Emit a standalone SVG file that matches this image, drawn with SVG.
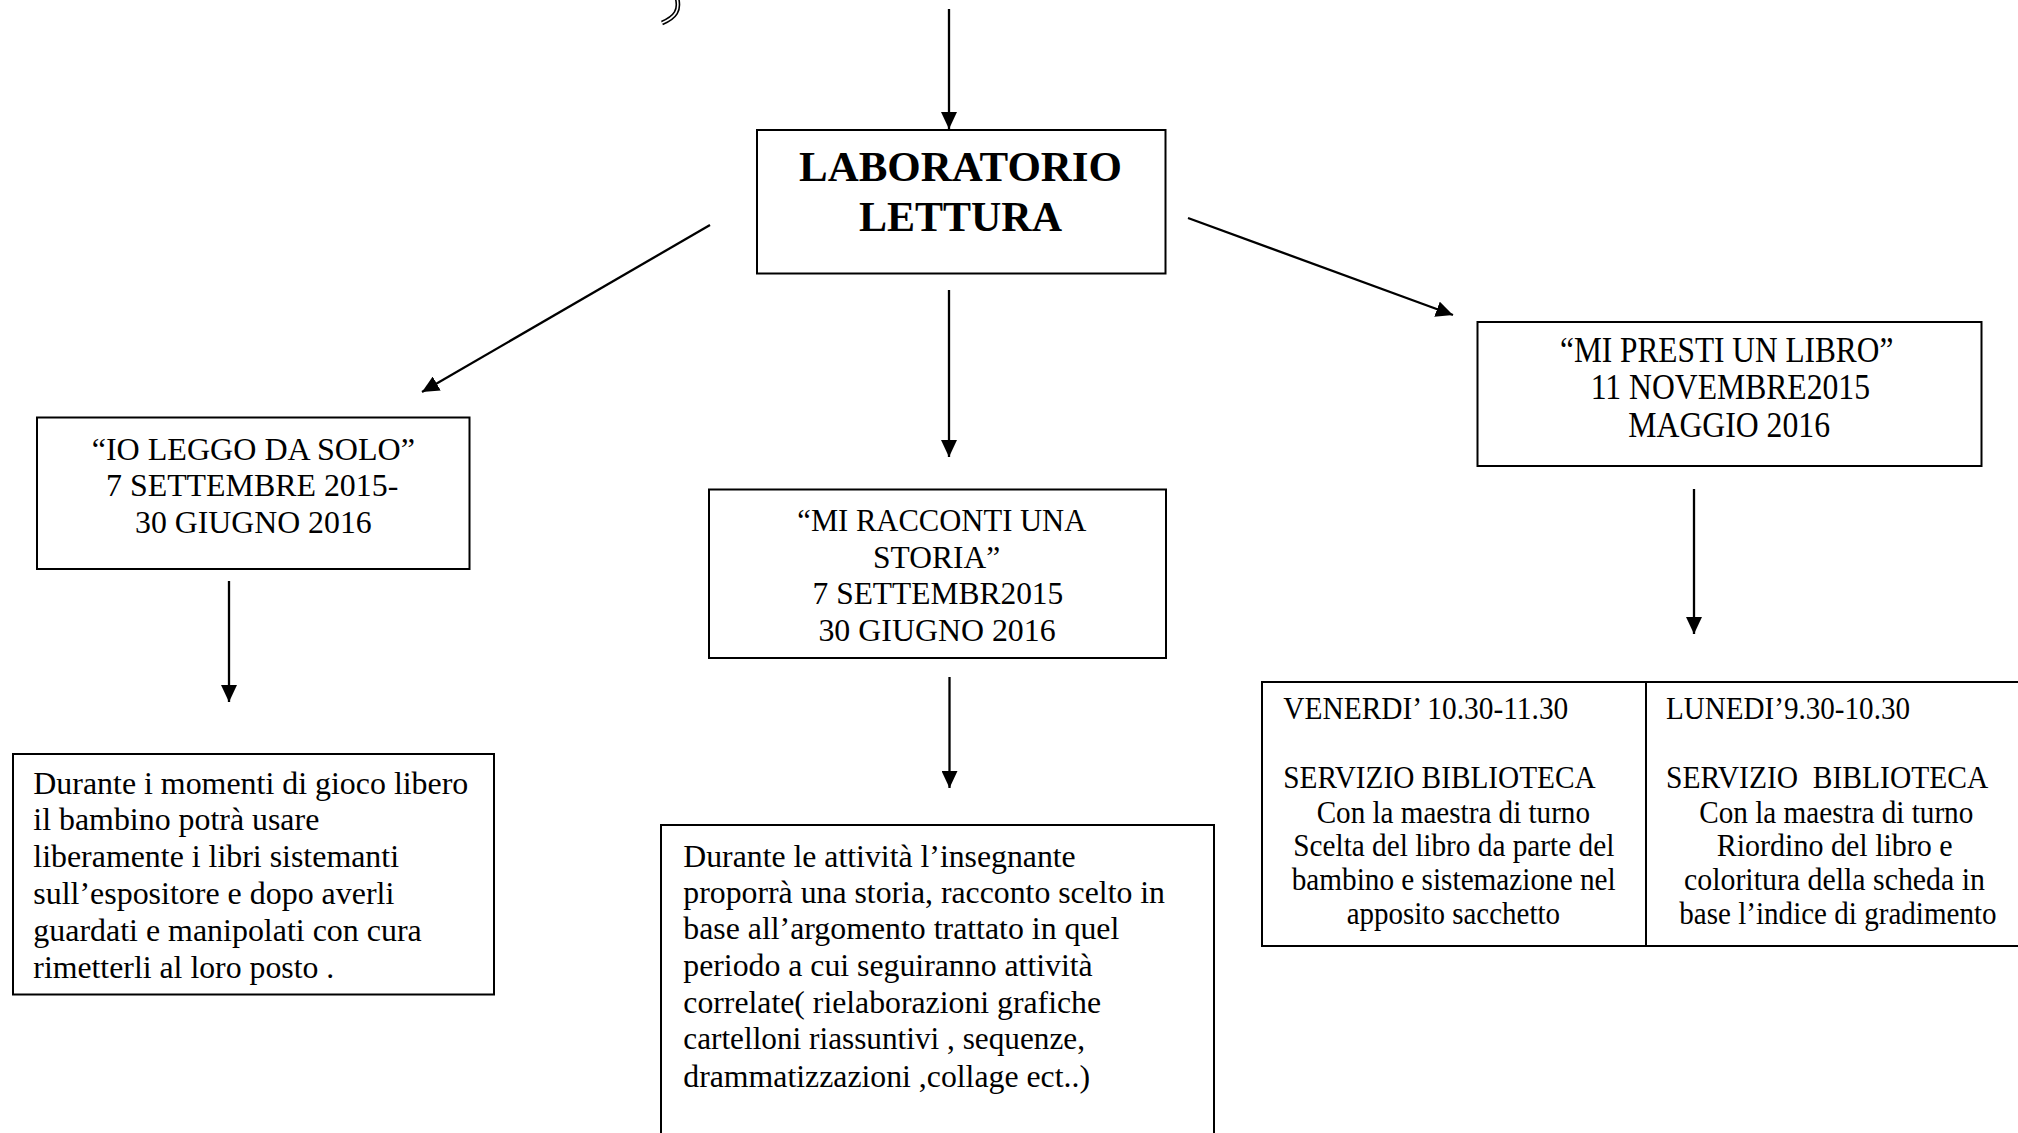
<svg xmlns="http://www.w3.org/2000/svg" width="2018" height="1133" viewBox="0 0 2018 1133">
  <style>
    .box { fill: #ffffff; stroke: #000000; stroke-width: 2; }
    .conn { stroke: #000000; stroke-width: 2.3; fill: none; marker-end: url(#arrow); }
    .t { font-family: "Liberation Serif", "Times New Roman", serif; fill: #000000; }
    .title { font-size: 42px; font-weight: bold; }
    .n32 { font-size: 32px; }
    .n36 { font-size: 36px; }
    .n31 { font-size: 31px; }
  </style>
  <defs>
    <marker id="arrow" markerUnits="userSpaceOnUse" markerWidth="18" markerHeight="16" refX="17" refY="8" orient="auto">
      <path d="M0,0 L17,8 L0,16 Z" fill="#000000"/>
    </marker>
  </defs>
  <rect x="0" y="0" width="2018" height="1133" fill="#ffffff"/>

  <g id="curl">
    <path d="M 677 -2 C 680 10, 676 17, 662 23" fill="none" stroke="#000000" stroke-width="4.8"/>
    <path d="M 677 -2 C 680 10, 676 17, 662 23" fill="none" stroke="#ffffff" stroke-width="1.6"/>
  </g>

  <g id="connectors">
    <line class="conn" x1="949" y1="9" x2="949" y2="129"/>
    <line class="conn" x1="710" y1="225" x2="422" y2="392"/>
    <line class="conn" x1="949" y1="290" x2="949" y2="457"/>
    <line class="conn" x1="1188" y1="218" x2="1453" y2="315"/>
    <line class="conn" x1="229" y1="581" x2="229" y2="702"/>
    <line class="conn" x1="949.5" y1="677" x2="949.5" y2="788"/>
    <line class="conn" x1="1694" y1="489" x2="1694" y2="634"/>
  </g>

  <g id="laboratorio-lettura">
    <rect class="box" x="757" y="130" width="408.5" height="143.5"/>
    <text class="t title" x="799" y="180.5" textLength="323" lengthAdjust="spacingAndGlyphs">LABORATORIO</text>
    <text class="t title" x="859" y="231" textLength="203" lengthAdjust="spacingAndGlyphs">LETTURA</text>
  </g>

  <g id="io-leggo-da-solo">
    <rect class="box" x="37" y="417.5" width="432.5" height="151.5"/>
    <text class="t n32" x="91.7" y="459.5" textLength="323.3" lengthAdjust="spacingAndGlyphs">“IO LEGGO DA SOLO”</text>
    <text class="t n32" x="106" y="496" textLength="292.3" lengthAdjust="spacingAndGlyphs">7 SETTEMBRE 2015-</text>
    <text class="t n32" x="135" y="532.5" textLength="236.7" lengthAdjust="spacingAndGlyphs">30 GIUGNO 2016</text>
  </g>

  <g id="mi-racconti-una-storia">
    <rect class="box" x="709" y="489.5" width="457" height="168.5"/>
    <text class="t n32" x="797.3" y="530.5" textLength="289" lengthAdjust="spacingAndGlyphs">“MI RACCONTI UNA</text>
    <text class="t n32" x="873.1" y="567.5" textLength="127" lengthAdjust="spacingAndGlyphs">STORIA”</text>
    <text class="t n32" x="812.6" y="604" textLength="250.7" lengthAdjust="spacingAndGlyphs">7 SETTEMBR2015</text>
    <text class="t n32" x="818.4" y="640.5" textLength="237.3" lengthAdjust="spacingAndGlyphs">30 GIUGNO 2016</text>
  </g>

  <g id="mi-presti-un-libro">
    <rect class="box" x="1477.5" y="322" width="504" height="144"/>
    <text class="t n36" x="1560" y="361.5" textLength="333.3" lengthAdjust="spacingAndGlyphs">“MI PRESTI UN LIBRO”</text>
    <text class="t n36" x="1590.7" y="399" textLength="279.3" lengthAdjust="spacingAndGlyphs">11 NOVEMBRE2015</text>
    <text class="t n36" x="1628.3" y="436.5" textLength="201.7" lengthAdjust="spacingAndGlyphs">MAGGIO 2016</text>
  </g>

  <g id="gioco-libero">
    <rect class="box" x="13" y="754" width="481" height="240.5"/>
    <text class="t n32" x="33.3" y="793.8" textLength="435" lengthAdjust="spacingAndGlyphs">Durante i momenti di gioco libero</text>
    <text class="t n32" x="33.3" y="830.3" textLength="286" lengthAdjust="spacingAndGlyphs">il bambino potrà usare</text>
    <text class="t n32" x="33.3" y="866.9" textLength="365.7" lengthAdjust="spacingAndGlyphs">liberamente i libri sistemanti</text>
    <text class="t n32" x="33.3" y="903.5" textLength="361" lengthAdjust="spacingAndGlyphs">sull’espositore e dopo averli</text>
    <text class="t n32" x="33.3" y="940.5" textLength="388.4" lengthAdjust="spacingAndGlyphs">guardati e manipolati con cura</text>
    <text class="t n32" x="33.3" y="977.5" textLength="301" lengthAdjust="spacingAndGlyphs">rimetterli al loro posto .</text>
  </g>

  <g id="attivita-insegnante">
    <rect class="box" x="661" y="825" width="553" height="330"/>
    <text class="t n32" x="683.3" y="866.7" textLength="392.4" lengthAdjust="spacingAndGlyphs">Durante le attività l’insegnante</text>
    <text class="t n32" x="683.3" y="903" textLength="481.7" lengthAdjust="spacingAndGlyphs">proporrà una storia, racconto scelto in</text>
    <text class="t n32" x="683.3" y="939.3" textLength="436" lengthAdjust="spacingAndGlyphs">base all’argomento trattato in quel</text>
    <text class="t n32" x="683.3" y="976" textLength="409.4" lengthAdjust="spacingAndGlyphs">periodo a cui seguiranno attività</text>
    <text class="t n32" x="683.3" y="1012.5" textLength="417.7" lengthAdjust="spacingAndGlyphs">correlate( rielaborazioni grafiche</text>
    <text class="t n32" x="683.3" y="1049" textLength="401.7" lengthAdjust="spacingAndGlyphs">cartelloni riassuntivi , sequenze,</text>
    <text class="t n32" x="683.3" y="1086.5" textLength="406.7" lengthAdjust="spacingAndGlyphs">drammatizzazioni ,collage ect..)</text>
  </g>

  <g id="servizio-biblioteca">
    <rect class="box" x="1262" y="682" width="780" height="264"/>
    <line x1="1646" y1="682" x2="1646" y2="946" stroke="#000000" stroke-width="2"/>
    <text class="t n31" x="1283.3" y="719.3" textLength="285" lengthAdjust="spacingAndGlyphs">VENERDI’ 10.30-11.30</text>
    <text class="t n31" x="1283.3" y="787.5" textLength="312.3" lengthAdjust="spacingAndGlyphs">SERVIZIO BIBLIOTECA</text>
    <text class="t n31" x="1316.7" y="822.6" textLength="273.3" lengthAdjust="spacingAndGlyphs">Con la maestra di turno</text>
    <text class="t n31" x="1293.3" y="856.2" textLength="321" lengthAdjust="spacingAndGlyphs">Scelta del libro da parte del</text>
    <text class="t n31" x="1291.7" y="889.8" textLength="324" lengthAdjust="spacingAndGlyphs">bambino e sistemazione nel</text>
    <text class="t n31" x="1346.7" y="924" textLength="213.3" lengthAdjust="spacingAndGlyphs">apposito sacchetto</text>
    <text class="t n31" x="1666" y="719.3" textLength="244" lengthAdjust="spacingAndGlyphs">LUNEDI’9.30-10.30</text>
    <text class="t n31" x="1666" y="787.5" textLength="322.3" lengthAdjust="spacingAndGlyphs" xml:space="preserve">SERVIZIO  BIBLIOTECA</text>
    <text class="t n31" x="1699.3" y="822.6" textLength="274" lengthAdjust="spacingAndGlyphs">Con la maestra di turno</text>
    <text class="t n31" x="1716.7" y="856.2" textLength="236" lengthAdjust="spacingAndGlyphs">Riordino del libro e</text>
    <text class="t n31" x="1684" y="889.8" textLength="301" lengthAdjust="spacingAndGlyphs">coloritura della scheda in</text>
    <text class="t n31" x="1679.3" y="924" textLength="317.3" lengthAdjust="spacingAndGlyphs">base l’indice di gradimento</text>
  </g>
</svg>
